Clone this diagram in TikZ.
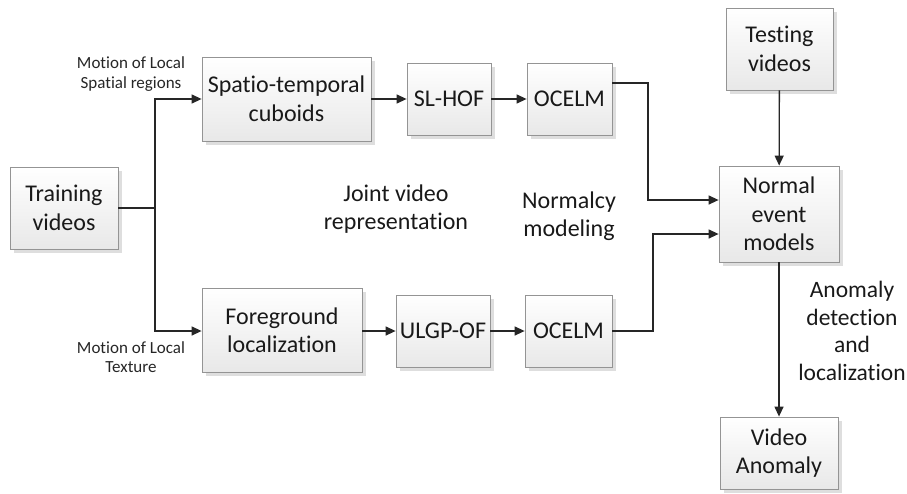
\documentclass[tikz,border=0pt]{standalone}
\usepackage{fontspec}
\setmainfont[Ligatures={NoCommon}]{Carlito}
\usetikzlibrary{arrows.meta,shadows}
\begin{document}
\begin{tikzpicture}[x=1pt,y=-1pt,
  box/.style={draw=black!42, line width=0.8pt, top color=white, bottom color=black!9,
    drop shadow={shadow xshift=4pt, shadow yshift=-4pt, fill=black!13, opacity=1},
    align=center, inner sep=0pt, font=\fontsize{24}{28.5}\selectfont, text=black!90},
  lbl/.style={align=center, inner sep=0pt, font=\fontsize{24}{28}\selectfont, text=black!90},
  small/.style={align=center, inner sep=0pt, font=\fontsize{17}{19.5}\selectfont, text=black!85},
  conn/.style={line width=1.3pt, black!85},
  arr/.style={conn, -{Triangle[length=10pt, width=9pt]}}]
\useasboundingbox (0,0) rectangle (907,493);

% processing blocks
\node[box, minimum width=108pt, minimum height=82pt] (train) at (64,208) {Training\\videos};
\node[box, minimum width=169pt, minimum height=84pt] (stc) at (286.5,99) {Spatio-temporal\\cuboids};
\node[box, minimum width=84pt, minimum height=72pt] (slhof) at (449,99) {SL-HOF};
\node[box, minimum width=85pt, minimum height=72pt] (ocA) at (569.5,99) {OCELM};
\node[box, minimum width=160pt, minimum height=84pt] (fg) at (282,330) {Foreground\\localization};
\node[box, minimum width=94pt, minimum height=72pt] (ulgp) at (443,331) {ULGP-OF};
\node[box, minimum width=87pt, minimum height=72pt] (ocB) at (568.5,331) {OCELM};
\node[box, minimum width=120pt, minimum height=96pt] (nem) at (779,214) {Normal\\event\\models};
\node[box, minimum width=107pt, minimum height=82pt] (test) at (779.5,49) {Testing\\videos};
\node[box, minimum width=118pt, minimum height=72pt] (anom) at (779,453) {Video\\Anomaly};

% free labels
\node[small] (lblA) at (131,74) {Motion of Local\\Spatial regions};
\node[small] (lblB) at (131,357) {Motion of Local\\Texture};
\node[lbl] (joint) at (396,209) {Joint video\\representation};
\node[lbl] (norm) at (569,216) {Normalcy\\modeling};
\node[lbl, font=\fontsize{23.5}{27.5}\selectfont] (det) at (852,331) {Anomaly\\detection\\and\\localization};

% connectors
\coordinate (split) at (155,208);
\coordinate (jA) at (648,83);
\coordinate (jB) at (653,331);
\draw[conn] (train.east) -- (split);
\draw[arr] (split) |- (stc.west);
\draw[arr] (split) |- ([yshift=-1pt]fg.west);
\draw[arr] (stc) -- (slhof);
\draw[arr] (slhof) -- (ocA);
\draw[arr] ([yshift=16pt]ocA.east) -- (jA) |- ([yshift=14pt]nem.west);
\draw[arr] ([yshift=-1pt]fg.east) -- (ulgp.west);
\draw[arr] (ulgp) -- (ocB);
\draw[arr] (ocB.east) -- (jB) |- ([yshift=-20pt]nem.west);
\draw[arr] (test) -- (nem);
\draw[arr] (nem) -- (anom);
\end{tikzpicture}
\end{document}
